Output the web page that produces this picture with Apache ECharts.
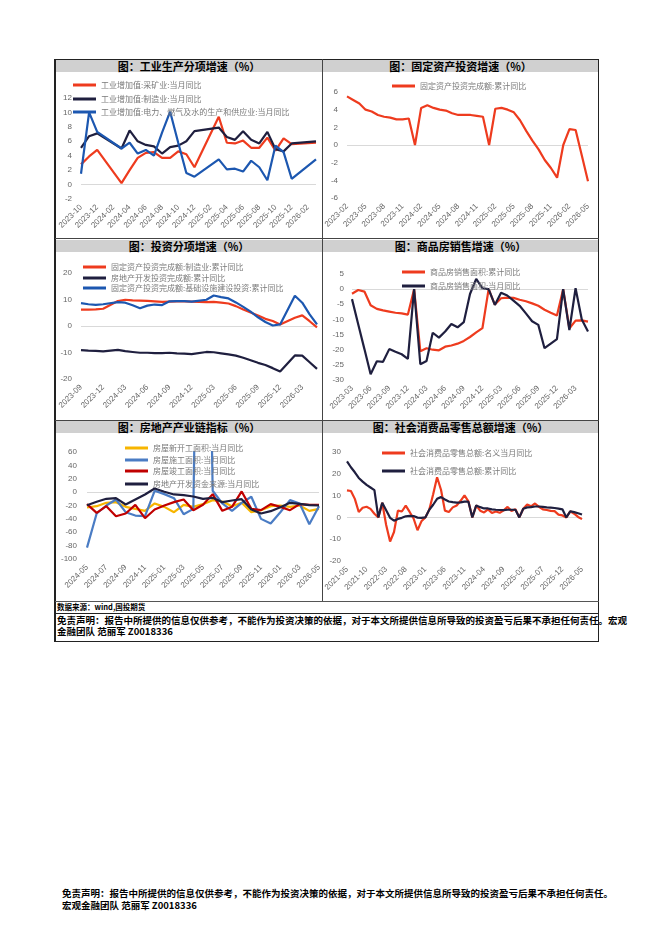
<!DOCTYPE html>
<html>
<head>
<meta charset="utf-8">
<script src="https://cdn.jsdelivr.net/npm/echarts@6/dist/echarts.min.js"></script>
<style>
  body { margin: 0; background: #fff; width: 662px; height: 936px; position: relative; font-family: "Noto Sans CJK SC", sans-serif; }
  .bar { position: absolute; height: 12px; background: #d0d0d0; font-weight: bold; font-size: 11px; line-height: 12px; text-align: center; color: #000; }
  .chart { position: absolute; height: 167px; }
  .ln { position: absolute; background: #222; }
  .txt { position: absolute; font-weight: bold; color: #000; white-space: nowrap; }
</style>
</head>
<body>
<!-- frame -->
<div class="ln" style="left:55px;top:59px;width:544px;height:1px;"></div>
<div class="ln" style="left:54px;top:59px;width:2px;height:583px;"></div>
<div class="ln" style="left:598px;top:59px;width:1px;height:583px;"></div>
<div class="ln" style="left:322px;top:59px;width:1px;height:542px;background:#444;"></div>
<div class="ln" style="left:55px;top:238px;width:544px;height:1px;background:#444;"></div>
<div class="ln" style="left:55px;top:420px;width:544px;height:1px;background:#444;"></div>
<div class="ln" style="left:55px;top:601px;width:544px;height:1px;background:#555;"></div>
<div class="ln" style="left:55px;top:613px;width:544px;height:1px;"></div>
<div class="ln" style="left:55px;top:641px;width:544px;height:1px;"></div>

<div class="bar" style="left:56px;top:60px;width:266px;">图：工业生产分项增速（%）</div>
<div class="bar" style="left:323px;top:60px;width:275px;">图：固定资产投资增速（%）</div>
<div class="bar" style="left:56px;top:240px;width:266px;">图：投资分项增速（%）</div>
<div class="bar" style="left:323px;top:240px;width:275px;">图：商品房销售增速（%）</div>
<div class="bar" style="left:56px;top:421px;width:266px;">图：房地产产业链指标（%）</div>
<div class="bar" style="left:323px;top:421px;width:275px;">图：社会消费品零售总额增速（%）</div>

<div id="c1" class="chart" style="left:56px;top:72px;width:266px;"></div>
<div id="c2" class="chart" style="left:323px;top:72px;width:275px;"></div>
<div id="c3" class="chart" style="left:56px;top:253px;width:266px;"></div>
<div id="c4" class="chart" style="left:323px;top:253px;width:275px;"></div>
<div id="c5" class="chart" style="left:56px;top:434px;width:266px;"></div>
<div id="c6" class="chart" style="left:323px;top:434px;width:275px;"></div>

<div class="txt" style="left:57px;top:601px;font-size:7.5px;line-height:12px;">数据来源：wind,国投期货</div>
<div class="txt" style="left:57px;top:615px;font-size:9.5px;line-height:11px;">免责声明：报告中所提供的信息仅供参考，不能作为投资决策的依据，对于本文所提供信息所导致的投资盈亏后果不承担任何责任。宏观<br>金融团队 范丽军 Z0018336</div>
<div class="txt" style="left:62px;top:887px;font-size:9.5px;line-height:12px;">免责声明：报告中所提供的信息仅供参考，不能作为投资决策的依据，对于本文所提供信息所导致的投资盈亏后果不承担任何责任。<br>宏观金融团队 范丽军 Z0018336</div>

<script>
// ---------- data ----------
const indMonths = ['2023-10','2023-11','2023-12',
  '2024-01','2024-02','2024-03','2024-04','2024-05','2024-06','2024-07','2024-08','2024-09','2024-10','2024-11','2024-12',
  '2025-01','2025-02','2025-03','2025-04','2025-05','2025-06','2025-07','2025-08','2025-09','2025-10','2025-11','2025-12',
  '2026-01','2026-02','2026-03'];
const indMining = [2.8, 3.9, 4.8, null, null, 0.2, 2.0, 3.7, 4.4, 4.5, 3.7, 3.7, 4.6, 4.2, 2.4, null, null, 9.4, 5.8, 5.7, 6.1, 5.1, 5.1, 6.5, 4.7, 6.4, 5.6, null, null, 5.8];
const indManu = [5.1, 6.7, 7.1, null, null, 5.0, 7.5, 6.0, 5.5, 5.3, 4.3, 5.2, 5.4, 6.0, 7.4, null, null, 7.9, 6.6, 6.2, 7.4, 6.2, 5.7, 7.3, 4.9, 4.6, 5.7, null, null, 6.0];
const indPower = [1.5, 10.0, 7.3, null, null, 5.0, 5.8, 4.3, 4.8, 4.0, 7.2, 10.1, 5.8, 1.6, 1.1, null, null, 3.5, 2.1, 2.2, 1.8, 3.3, 2.4, 0.6, 5.4, 4.5, 0.8, null, null, 3.5];

const faiMonths = ['2023-02','2023-03','2023-04','2023-05','2023-06','2023-07','2023-08','2023-09','2023-10','2023-11','2023-12',
  '2024-01','2024-02','2024-03','2024-04','2024-05','2024-06','2024-07','2024-08','2024-09','2024-10','2024-11','2024-12',
  '2025-01','2025-02','2025-03','2025-04','2025-05','2025-06','2025-07','2025-08','2025-09','2025-10','2025-11','2025-12',
  '2026-01','2026-02','2026-03','2026-04','2026-05'];
const faiTotal = [5.5, 5.1, 4.7, 4.0, 3.8, 3.4, 3.2, 3.1, 2.9, 2.9, 3.0, 0, 4.2, 4.5, 4.2, 4.0, 3.9, 3.6, 3.4, 3.4, 3.4, 3.3, 3.2, 0, 4.1, 4.2, 4.0, 3.7, 2.8, 1.6, 0.5, -0.5, -1.7, -2.6, -3.7, 0, 1.8, 1.7, -1.2, -4.1];

const invMonths = ['2023-09','2023-10','2023-11','2023-12',
  '2024-01','2024-02','2024-03','2024-04','2024-05','2024-06','2024-07','2024-08','2024-09','2024-10','2024-11','2024-12',
  '2025-01','2025-02','2025-03','2025-04','2025-05','2025-06','2025-07','2025-08','2025-09','2025-10','2025-11','2025-12',
  '2026-01','2026-02','2026-03','2026-04','2026-05'];
const invManu = [6.2, 6.2, 6.3, 6.5, null, 9.4, 9.9, 9.7, 9.6, 9.5, 9.3, 9.1, 9.2, 9.3, 9.3, 9.2, null, 9.0, 9.1, 8.8, 8.5, 7.5, 6.2, 5.1, 4.0, 2.7, 1.9, 0.6, null, 3.1, 4.0, 1.8, -0.5];
const invRealty = [-9.1, -9.3, -9.4, -9.6, null, -9.0, -9.5, -9.8, -10.1, -10.1, -10.2, -10.2, -10.1, -10.3, -10.4, -10.6, null, -9.8, -9.9, -10.3, -10.7, -11.2, -12.0, -12.9, -13.9, -14.7, -15.9, -17.2, null, -11.1, -11.2, -13.7, -16.2];
const invInfra = [8.6, 8.2, 8.0, 8.2, null, 9.0, 8.8, 7.8, 6.7, 7.7, 8.1, 7.9, 9.3, 9.4, 9.4, 9.2, null, 9.9, 11.5, 10.9, 10.4, 8.9, 7.2, 5.4, 3.3, 1.5, 0.2, 0.6, null, 11.4, 8.8, 4.4, 0.6];

const saleMonths = ['2023-03','2023-04','2023-05','2023-06','2023-07','2023-08','2023-09','2023-10','2023-11','2023-12',
  '2024-01','2024-02','2024-03','2024-04','2024-05','2024-06','2024-07','2024-08','2024-09','2024-10','2024-11','2024-12',
  '2025-01','2025-02','2025-03','2025-04','2025-05','2025-06','2025-07','2025-08','2025-09','2025-10','2025-11','2025-12',
  '2026-01','2026-02','2026-03','2026-04','2026-05'];
const saleAreaYtd = [-1.5, -0.3, -0.8, -5.3, -6.5, -7.0, -7.4, -7.8, -8.0, -8.4, 0, -20.5, -19.5, -20.0, -20.2, -19.0, -18.6, -18.0, -17.1, -15.8, -14.3, -12.9, 0, -5.1, -3.0, -2.8, -2.9, -3.5, -4.0, -4.7, -5.5, -6.8, -7.8, -8.7, 0, -13.0, -10.4, -10.3, -10.7];
const saleAreaMonth = [-3.3, -11.6, -19.8, -28.1, -23.8, -24.0, -19.8, -20.7, -21.5, -23.0, 0, -24.8, -23.7, -14.4, -16.0, -14.0, -11.5, -12.6, -10.9, -1.6, 3.4, 0.3, 0, -5.2, -1.2, -2.1, -3.8, -5.5, -8.0, -10.6, -11.8, -19.5, -18.0, -16.5, 0, -13.5, 0.3, -10.0, -14.0];

const reMonths = ['2024-05','2024-06','2024-07','2024-08','2024-09','2024-10','2024-11','2024-12',
  '2025-01','2025-02','2025-03','2025-04','2025-05','2025-06','2025-07','2025-08','2025-09','2025-10','2025-11','2025-12',
  '2026-01','2026-02','2026-03','2026-04','2026-05'];
const reNewStart = [-23, -21, -16, -15, -22, -25, -28, -17, -22, -30, -19, -22, -18, -12, -14, -21, -16, -30, -27, -21, -20, -22, -20, -28, -25];
const reUnderCon = [-83, -32, -20, -11, -30, -35, -36, 2, -3, -9, -33, -25, 900, 2, -17, -28, -16, -7, -40, -47, -30, -12, -17, -48, -21];
const reCompleted = [-18, -31, -21, -36, -32, -19, -39, -26, -20, -15, -11, -27, -19, -3, -28, -22, 1, -25, -27, -18, -22, -27, -18, -19, -19];
const reFunds = [-19.5, -14.5, -10, -9, -18.5, -11, -3.5, 5.5, 0.5, -3.5, -4.5, -6.5, -10, -8.5, -15, -12.5, -10.5, -26, -32, -28.5, -22.5, -16, -17.5, -19.5, -20];

const retailMonths = ['2021-05','2021-06','2021-07','2021-08','2021-09','2021-10','2021-11','2021-12',
  '2022-01','2022-02','2022-03','2022-04','2022-05','2022-06','2022-07','2022-08','2022-09','2022-10','2022-11','2022-12',
  '2023-01','2023-02','2023-03','2023-04','2023-05','2023-06','2023-07','2023-08','2023-09','2023-10','2023-11','2023-12',
  '2024-01','2024-02','2024-03','2024-04','2024-05','2024-06','2024-07','2024-08','2024-09','2024-10','2024-11','2024-12',
  '2025-01','2025-02','2025-03','2025-04','2025-05','2025-06','2025-07','2025-08','2025-09','2025-10','2025-11','2025-12',
  '2026-01','2026-02','2026-03','2026-04','2026-05'];
const retailMonth = [12.4, 12.1, 8.5, 2.5, 4.4, 4.9, 3.9, 1.7, 0, 6.7, -3.5, -11.1, -6.7, 3.1, 2.7, 5.4, 2.5, -0.5, -5.9, -1.8, 0, 3.5, 10.6, 18.4, 12.7, 3.1, 2.5, 4.6, 5.5, 7.6, 10.1, 7.4, 0, 5.5, 3.1, 2.3, 3.7, 2.0, 2.7, 2.1, 3.2, 4.8, 3.0, 3.7, 0, 4.0, 5.9, 5.1, 6.4, 4.8, 3.7, 3.4, 3.0, 2.9, 1.3, 0.9, 0, 2.8, 1.7, 0.2, -0.8];
const retailYtd = [25.7, 23.0, 20.7, 18.1, 16.4, 14.9, 13.7, 12.5, 0, 6.7, 3.3, -0.2, -1.5, -0.7, -0.2, 0.5, 0.7, 0.6, -0.1, -0.2, 0, 3.5, 5.8, 8.5, 9.3, 8.2, 7.3, 7.0, 6.8, 6.9, 7.2, 7.2, 0, 5.5, 4.7, 4.1, 4.1, 3.7, 3.5, 3.4, 3.3, 3.5, 3.5, 3.5, 0, 4.0, 4.6, 4.7, 5.0, 5.0, 4.8, 4.6, 4.5, 4.3, 4.0, 3.7, 0, 2.8, 2.4, 1.9, 1.3];

// ---------- colours ----------
const RED = '#EE3B1E', NAVY = '#1F1F3F', BLUE = '#1C57B0';
const YELLOW = '#F7B500', LBLUE = '#4A7CC4', DRED = '#C00000';

// ---------- helpers ----------
const NUM_FONT = 'Liberation Sans, Noto Sans CJK SC, sans-serif';
const CJK_FONT = 'Noto Sans CJK SC, sans-serif';

function zeroLineColors(min, max, step) {
  const colors = [];
  for (let v = min; v <= max + 1e-9; v += step) {
    colors.push(Math.abs(v) < 1e-9 ? '#d9d9d9' : 'rgba(0,0,0,0)');
  }
  return colors;
}

function drawChart(id, p) {
  const chart = echarts.init(document.getElementById(id), null, { renderer: 'canvas' });
  chart.setOption({
    animation: false,
    grid: { left: p.grid[0], right: p.grid[1], top: p.grid[2], bottom: p.grid[3], outerBoundsMode: 'none' },
    xAxis: {
      type: 'category',
      data: p.cats,
      boundaryGap: false,
      axisLine: { show: false },
      axisTick: { show: false },
      splitLine: { show: false },
      axisLabel: { interval: p.interval, rotate: 45, fontSize: 8, color: '#666', margin: 7, fontFamily: NUM_FONT },
    },
    yAxis: {
      type: 'value',
      min: p.y[0],
      max: p.y[1],
      interval: p.y[2],
      axisLine: { show: false },
      axisTick: { show: false },
      axisLabel: { fontSize: 8, color: '#666', margin: p.ylm, fontFamily: NUM_FONT },
      splitLine: { show: true, lineStyle: { width: 1, color: zeroLineColors(p.y[0], p.y[1], p.y[2]) } },
    },
    legend: p.series.map((s, i) => ({
      data: [s.name],
      left: p.legend[0],
      top: p.legend[1][i],
      icon: 'rect',
      itemWidth: 23,
      itemHeight: 3,
      itemGap: 0,
      padding: 0,
      selectedMode: false,
      textStyle: { fontSize: 8, color: '#7a7a7a', fontFamily: CJK_FONT },
    })),
    series: p.series.map((s) => ({
      type: 'line',
      name: s.name,
      data: s.data,
      symbol: 'none',
      connectNulls: true,
      clip: true,
      lineStyle: { width: 2.2, color: s.color },
      itemStyle: { color: s.color },
    })),
  });
}

drawChart('c1', {
  cats: indMonths, interval: 1, grid: [25, 6, 26, 40], y: [-2, 12, 2], ylm: 9,
  legend: [17, [9, 23, 36]],
  series: [
    { name: '工业增加值:采矿业:当月同比', data: indMining, color: RED },
    { name: '工业增加值:制造业:当月同比', data: indManu, color: NAVY },
    { name: '工业增加值:电力、燃气及水的生产和供应业:当月同比', data: indPower, color: BLUE },
  ],
});

drawChart('c2', {
  cats: faiMonths, interval: 2, grid: [24, 10, 20, 41], y: [-6, 6, 2], ylm: 9,
  legend: [69, [10]],
  series: [
    { name: '固定资产投资完成额:累计同比', data: faiTotal, color: RED },
  ],
});

drawChart('c3', {
  cats: invMonths, interval: 2, grid: [25, 5, 20, 41], y: [-20, 20, 10], ylm: 9,
  legend: [27, [10, 21, 31]],
  series: [
    { name: '固定资产投资完成额:制造业:累计同比', data: invManu, color: RED },
    { name: '房地产开发投资完成额:累计同比', data: invRealty, color: NAVY },
    { name: '固定资产投资完成额:基础设施建设投资:累计同比', data: invInfra, color: BLUE },
  ],
});

drawChart('c4', {
  cats: saleMonths, interval: 2, grid: [29, 10, 21, 40], y: [-30, 5, 5], ylm: 8,
  legend: [79, [15, 29]],
  series: [
    { name: '商品房销售面积:累计同比', data: saleAreaYtd, color: RED },
    { name: '商品房销售面积:当月同比', data: saleAreaMonth, color: NAVY },
  ],
});

drawChart('c5', {
  cats: reMonths, interval: 1, grid: [31, 3, 18, 42], y: [-100, 60, 20], ylm: 10,
  legend: [69, [10, 22, 33, 46]],
  series: [
    { name: '房屋新开工面积:当月同比', data: reNewStart, color: YELLOW },
    { name: '房屋施工面积:当月同比', data: reUnderCon, color: LBLUE },
    { name: '房屋竣工面积:当月同比', data: reCompleted, color: DRED },
    { name: '房地产开发资金来源:当月同比', data: reFunds, color: NAVY },
  ],
});

drawChart('c6', {
  cats: retailMonths, interval: 4, grid: [24, 16, 18, 40], y: [-20, 30, 10], ylm: 6,
  legend: [59, [15, 33]],
  series: [
    { name: '社会消费品零售总额:名义当月同比', data: retailMonth, color: RED },
    { name: '社会消费品零售总额:累计同比', data: retailYtd, color: NAVY },
  ],
});
</script>
</body>
</html>
